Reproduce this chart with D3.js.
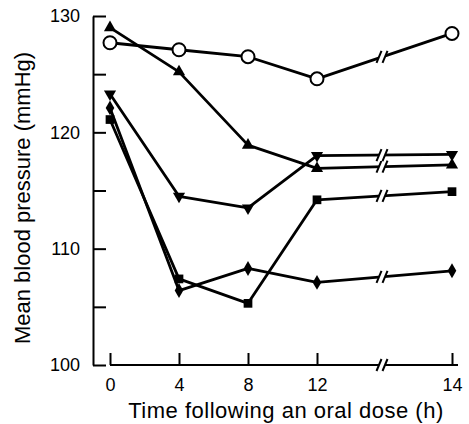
<!DOCTYPE html>
<meta charset="utf-8">
<style>
body { margin: 0; background: #fff; }
svg { display: block; font-family: "Liberation Sans", Arial, sans-serif; }
.axis path, .axis line { stroke: #000; stroke-width: 2px; }
.axis text { font-size: 18px; fill: #000; }
.line { fill: none; stroke: #000; stroke-width: 2.8px; stroke-linejoin: round; }
.label { font-size: 22px; fill: #000; }
</style>
<svg width="469" height="424"></svg>
<script src="https://cdn.jsdelivr.net/npm/d3@7"></script>
<script>

// hours after the dose
var hours = [0, 4, 8, 12, 14];

// mean blood pressure (mmHg), one array per group
var openCircle   = [127.7, 127.1, 126.5, 124.6, 128.5];
var triangleUp   = [129.0, 125.2, 118.9, 116.9, 117.2];
var triangleDown = [123.3, 114.5, 113.5, 118.0, 118.1];
var square       = [121.1, 107.4, 105.3, 114.2, 114.9];
var diamond      = [122.1, 106.4, 108.3, 107.1, 108.1];

var yTicks = [100, 105, 110, 115, 120, 125, 130];
var yLabels = [100, 110, 120, 130];
var xTicks = [0, 4, 8, 12, 14];

var series = [
  {id: "triangleUp", values: triangleUp},
  {id: "triangleDown", values: triangleDown},
  {id: "square", values: square},
  {id: "diamond", values: diamond},
  {id: "openCircle", values: openCircle}
];

var svg = d3.select("svg");

// the axis is broken between 12 and 14 h
var x = d3.scaleLinear().domain([0, 12, 14]).range([110, 317, 452]),
    y = d3.scaleLinear().domain([100, 130]).range([365, 16]);
var breakX = 382;

var line = d3.line()
    .x(function(d) { return x(d.h); })
    .y(function(d) { return y(d.v); });

svg.append("g")
    .attr("class", "axis axis--y")
    .attr("transform", "translate(93,0)")
    .call(d3.axisLeft(y)
      .tickValues(yTicks)
      .tickSizeInner(-13)
      .tickSizeOuter(0)
      .tickPadding(13)
      .tickFormat(function(d) { return yLabels.indexOf(d) >= 0 ? d : ""; }));

var gx = svg.append("g")
    .attr("class", "axis axis--x")
    .attr("transform", "translate(0,365)")
    .call(d3.axisBottom(x)
      .tickValues(xTicks)
      .tickSizeInner(-12)
      .tickSizeOuter(0)
      .tickPadding(13));
gx.select(".domain").attr("d", "M110,0H458");

function drawBreak(g, bx, by) {
  g.append("path")
      .attr("d", "M" + (bx - 5) + "," + (by + 6) + "L" + (bx - 1) + "," + (by - 6) +
                 "L" + (bx + 5) + "," + (by - 6) + "L" + (bx + 1) + "," + (by + 6) + "Z")
      .attr("fill", "#fff");
  [-3, 3].forEach(function(o) {
    g.append("line")
        .attr("x1", bx + o - 2.5).attr("y1", by + 6)
        .attr("x2", bx + o + 2.5).attr("y2", by - 6)
        .attr("stroke", "#000").attr("stroke-width", 2);
  });
}

drawBreak(svg.append("g"), breakX, 365);

series.forEach(function(s) {
  var pts = hours.map(function(h, i) { return {h: h, v: s.values[i]}; });
  var g = svg.append("g").attr("class", "group " + s.id);

  g.append("path")
      .attr("class", "line")
      .attr("d", line(pts));

  var a = pts[3], b = pts[4],
      t = (breakX - x(a.h)) / (x(b.h) - x(a.h)),
      by = y(a.v) + t * (y(b.v) - y(a.v));
  drawBreak(g, breakX, by);

  var sym;
  if (s.id == "openCircle") {
    g.selectAll("circle").data(pts).enter().append("circle")
        .attr("cx", function(d) { return x(d.h); })
        .attr("cy", function(d) { return y(d.v); })
        .attr("r", 6.5)
        .attr("fill", "#fff")
        .attr("stroke", "#000")
        .attr("stroke-width", 2);
    return;
  }
  if (s.id == "triangleUp" || s.id == "triangleDown") sym = d3.symbol(d3.symbolTriangle, 64);
  else if (s.id == "square") sym = d3.symbol(d3.symbolSquare, 76);
  else sym = d3.symbol(d3.symbolDiamond, 64);

  g.selectAll(".mark").data(pts).enter().append("path")
      .attr("class", "mark")
      .attr("d", sym)
      .attr("fill", "#000")
      .attr("transform", function(d) {
        return "translate(" + x(d.h) + "," + y(d.v) + ")" + (s.id == "triangleDown" ? " rotate(180)" : "");
      });
});

svg.append("text")
    .attr("class", "label")
    .attr("transform", "translate(30,198) rotate(-90)")
    .attr("text-anchor", "middle")
    .text("Mean blood pressure (mmHg)");

svg.append("text")
    .attr("class", "label")
    .attr("x", 286)
    .attr("y", 418)
    .attr("text-anchor", "middle")
    .style("letter-spacing", "0.5px")
    .text("Time following an oral dose (h)");

</script>
